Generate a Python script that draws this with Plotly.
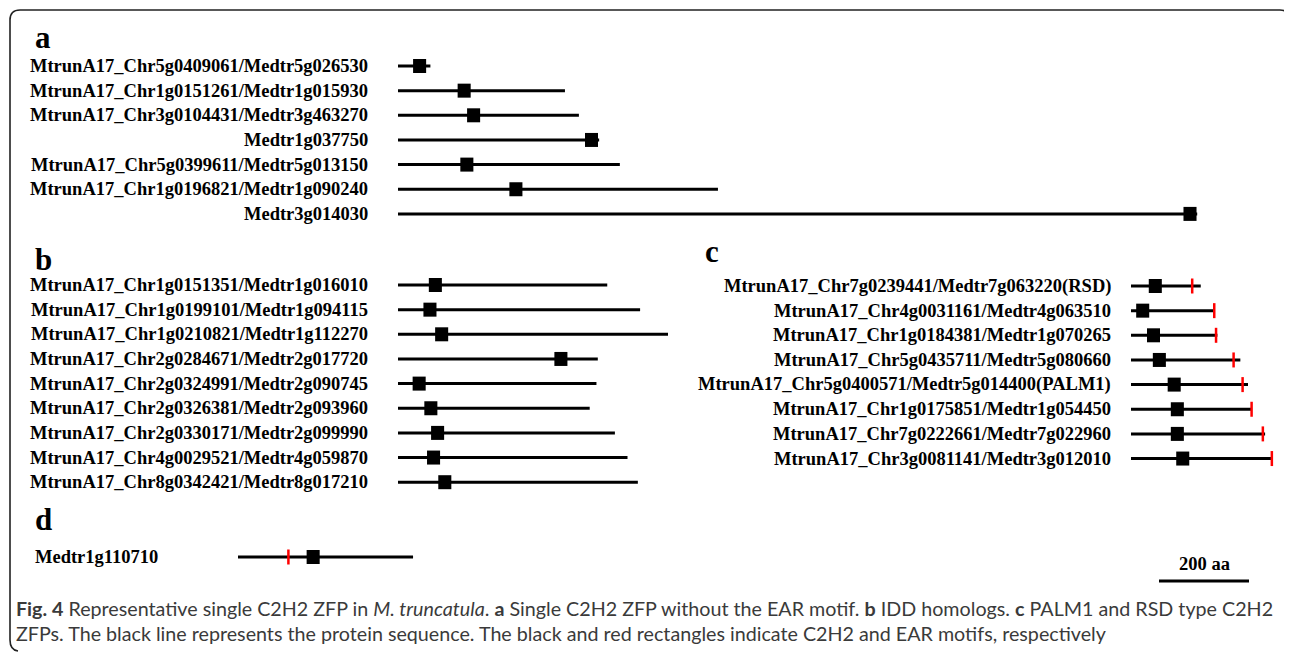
import plotly.graph_objects as go

# The page adds an 8 px body margin, so the figure is sized to fit the remaining window
PAGE_OFF = 8
W_REF, H_REF = 1292, 653
FW, FH = W_REF - PAGE_OFF, H_REF - PAGE_OFF
PX_PER_AA = 0.45  # 200 aa scale bar ~ 90 px

# ---------------- data (amino-acid positions) ----------------
a_names = ["MtrunA17_Chr5g0409061/Medtr5g026530", "MtrunA17_Chr1g0151261/Medtr1g015930",
           "MtrunA17_Chr3g0104431/Medtr3g463270", "Medtr1g037750",
           "MtrunA17_Chr5g0399611/Medtr5g013150", "MtrunA17_Chr1g0196821/Medtr1g090240",
           "Medtr3g014030"]
a_length = [72, 371, 402, 447, 493, 711, 1776]
a_c2h2 = [48, 147, 168, 430, 153, 262, 1760]

b_names = ["MtrunA17_Chr1g0151351/Medtr1g016010", "MtrunA17_Chr1g0199101/Medtr1g094115",
           "MtrunA17_Chr1g0210821/Medtr1g112270", "MtrunA17_Chr2g0284671/Medtr2g017720",
           "MtrunA17_Chr2g0324991/Medtr2g090745", "MtrunA17_Chr2g0326381/Medtr2g093960",
           "MtrunA17_Chr2g0330171/Medtr2g099990", "MtrunA17_Chr4g0029521/Medtr4g059870",
           "MtrunA17_Chr8g0342421/Medtr8g017210"]
b_length = [465, 538, 600, 444, 441, 426, 482, 510, 533]
b_c2h2 = [83, 71, 97, 362, 47, 73, 88, 79, 104]

c_names = ["MtrunA17_Chr7g0239441/Medtr7g063220(RSD)", "MtrunA17_Chr4g0031161/Medtr4g063510",
           "MtrunA17_Chr1g0184381/Medtr1g070265", "MtrunA17_Chr5g0435711/Medtr5g080660",
           "MtrunA17_Chr5g0400571/Medtr5g014400(PALM1)", "MtrunA17_Chr1g0175851/Medtr1g054450",
           "MtrunA17_Chr7g0222661/Medtr7g022960", "MtrunA17_Chr3g0081141/Medtr3g012010"]
c_length = [155, 185, 192, 243, 260, 269, 298, 315]
c_c2h2 = [54, 26, 50, 63, 96, 103, 103, 115]
c_ear = [136, 185, 189, 228, 248, 268, 293, 313]

d_names = ["Medtr1g110710"]
d_length = [389]
d_c2h2 = [167]
d_ear = [112]

scale_bar_aa = 200
scale_bar_label = "200 aa"

caption_line1 = ("<b>Fig. 4</b> Representative single C2H2 ZFP in <i>M. truncatula</i>. "
                 "<b>a</b> Single C2H2 ZFP without the EAR motif. <b>b</b> IDD homologs. "
                 "<b>c</b> PALM1 and RSD type C2H2")
caption_line2 = ("ZFPs. The black line represents the protein sequence. The black and red "
                 "rectangles indicate C2H2 and EAR motifs, respectively")

# ---------------- layout constants (reference-page pixels) ----------------
ROW_STEP = 24.65
panels = {
    "a": dict(axis="x", top=66, names=a_names, length=a_length, c2h2=a_c2h2, ear=None,
              label_right=370, label_left=None),
    "b": dict(axis="x", top=285, names=b_names, length=b_length, c2h2=b_c2h2, ear=None,
              label_right=370, label_left=None),
    "c": dict(axis="x2", top=286, names=c_names, length=c_length, c2h2=c_c2h2, ear=c_ear,
              label_right=1113, label_left=None),
    "d": dict(axis="x3", top=557, names=d_names, length=d_length, c2h2=d_c2h2, ear=d_ear,
              label_right=None, label_left=33),
}
axis_starts = {"x": 398, "x2": 1131, "x3": 238, "x4": 1159}
SCALE_Y = 581

BOX_W_AA = 29
BOX_H = 14
EAR_H = 15
LINE_W = 3
LABEL_SIZE = 18.5

SERIF = "Liberation Serif, Times New Roman, serif"
SANS = "Lato, Open Sans, sans-serif"


def px(x):
    return (x - PAGE_OFF) / FW


fig = go.Figure()
shapes = []
annotations = []

for key, p in panels.items():
    xs, ys = [], []
    rows = [p["top"] + i * ROW_STEP for i in range(len(p["names"]))]
    for i, r in enumerate(rows):
        xs += [0, p["length"][i], None]
        ys += [r, r, None]
    fig.add_trace(go.Scatter(x=xs, y=ys, mode="lines", xaxis=p["axis"], yaxis="y",
                             line=dict(color="black", width=LINE_W), hoverinfo="skip",
                             showlegend=False))
    for i, r in enumerate(rows):
        c = p["c2h2"][i]
        shapes.append(dict(type="rect", xref=p["axis"], yref="y",
                           x0=c - BOX_W_AA / 2, x1=c + BOX_W_AA / 2,
                           y0=r - BOX_H / 2, y1=r + BOX_H / 2,
                           fillcolor="black", line=dict(width=0)))
    if p["ear"] is not None:
        ex, ey = [], []
        for i, r in enumerate(rows):
            ex += [p["ear"][i], p["ear"][i], None]
            ey += [r - EAR_H / 2, r + EAR_H / 2, None]
        fig.add_trace(go.Scatter(x=ex, y=ey, mode="lines", xaxis=p["axis"], yaxis="y",
                                 line=dict(color="#ff0000", width=2.5), hoverinfo="skip",
                                 showlegend=False))
    for i, r in enumerate(rows):
        if p["label_right"] is not None:
            xpos, anchor = px(p["label_right"]), "right"
        else:
            xpos, anchor = px(p["label_left"]), "left"
        annotations.append(dict(text=p["names"][i], xref="paper", yref="y",
                                x=xpos, y=r, xanchor=anchor, yanchor="middle",
                                showarrow=False,
                                font=dict(family=SERIF, size=LABEL_SIZE, color="black", weight="bold")))

# scale bar
fig.add_trace(go.Scatter(x=[0, scale_bar_aa], y=[SCALE_Y, SCALE_Y], mode="lines", xaxis="x4", yaxis="y",
                         line=dict(color="black", width=LINE_W), hoverinfo="skip", showlegend=False))
annotations.append(dict(text=scale_bar_label, xref="x4", yref="y", x=scale_bar_aa / 2, y=564,
                        xanchor="center", yanchor="middle", showarrow=False,
                        font=dict(family=SERIF, size=LABEL_SIZE, color="black", weight="bold")))

# panel letters
for letter, (lx, ly) in {"a": (33, 37), "b": (33, 259), "c": (703, 251), "d": (33, 519)}.items():
    annotations.append(dict(text=letter, xref="paper", yref="y", x=px(lx), y=ly,
                            xanchor="left", yanchor="middle", showarrow=False,
                            font=dict(family=SERIF, size=31, color="black", weight="bold")))

# caption
for txt, cy in [(caption_line1, 608), (caption_line2, 633)]:
    annotations.append(dict(text=txt, xref="paper", yref="y", x=px(14), y=cy,
                            xanchor="left", yanchor="middle", showarrow=False,
                            font=dict(family=SANS, size=19.7, color="#3a3a3a")))


# border (left + top, rounded corners)
def P(x, y):
    return f"{(x - PAGE_OFF) / FW:.5f},{1 - (y - PAGE_OFF) / FH:.5f}"


border = (f"M {P(1289, 20)} Q {P(1289, 10)} {P(1280, 10)} L {P(20, 10)} "
          f"Q {P(10, 10)} {P(10, 20)} L {P(10, 640)} Q {P(10, 650)} {P(18, 651)}")
shapes.append(dict(type="path", xref="paper", yref="paper", path=border,
                   line=dict(color="#222222", width=1.6)))


def xa(start_px):
    return dict(domain=[px(start_px), 1], range=[0, (W_REF - start_px) / PX_PER_AA], visible=False,
                anchor="y", fixedrange=True)


fig.update_layout(
    width=FW, height=FH, margin=dict(l=0, r=0, t=0, b=0),
    paper_bgcolor="white", plot_bgcolor="rgba(0,0,0,0)",
    xaxis=xa(axis_starts["x"]), xaxis2=xa(axis_starts["x2"]), xaxis3=xa(axis_starts["x3"]),
    xaxis4=xa(axis_starts["x4"]),
    yaxis=dict(domain=[0, 1], range=[H_REF, PAGE_OFF], visible=False, fixedrange=True),
    shapes=shapes, annotations=annotations, showlegend=False,
)

fig.write_html("out.html")
